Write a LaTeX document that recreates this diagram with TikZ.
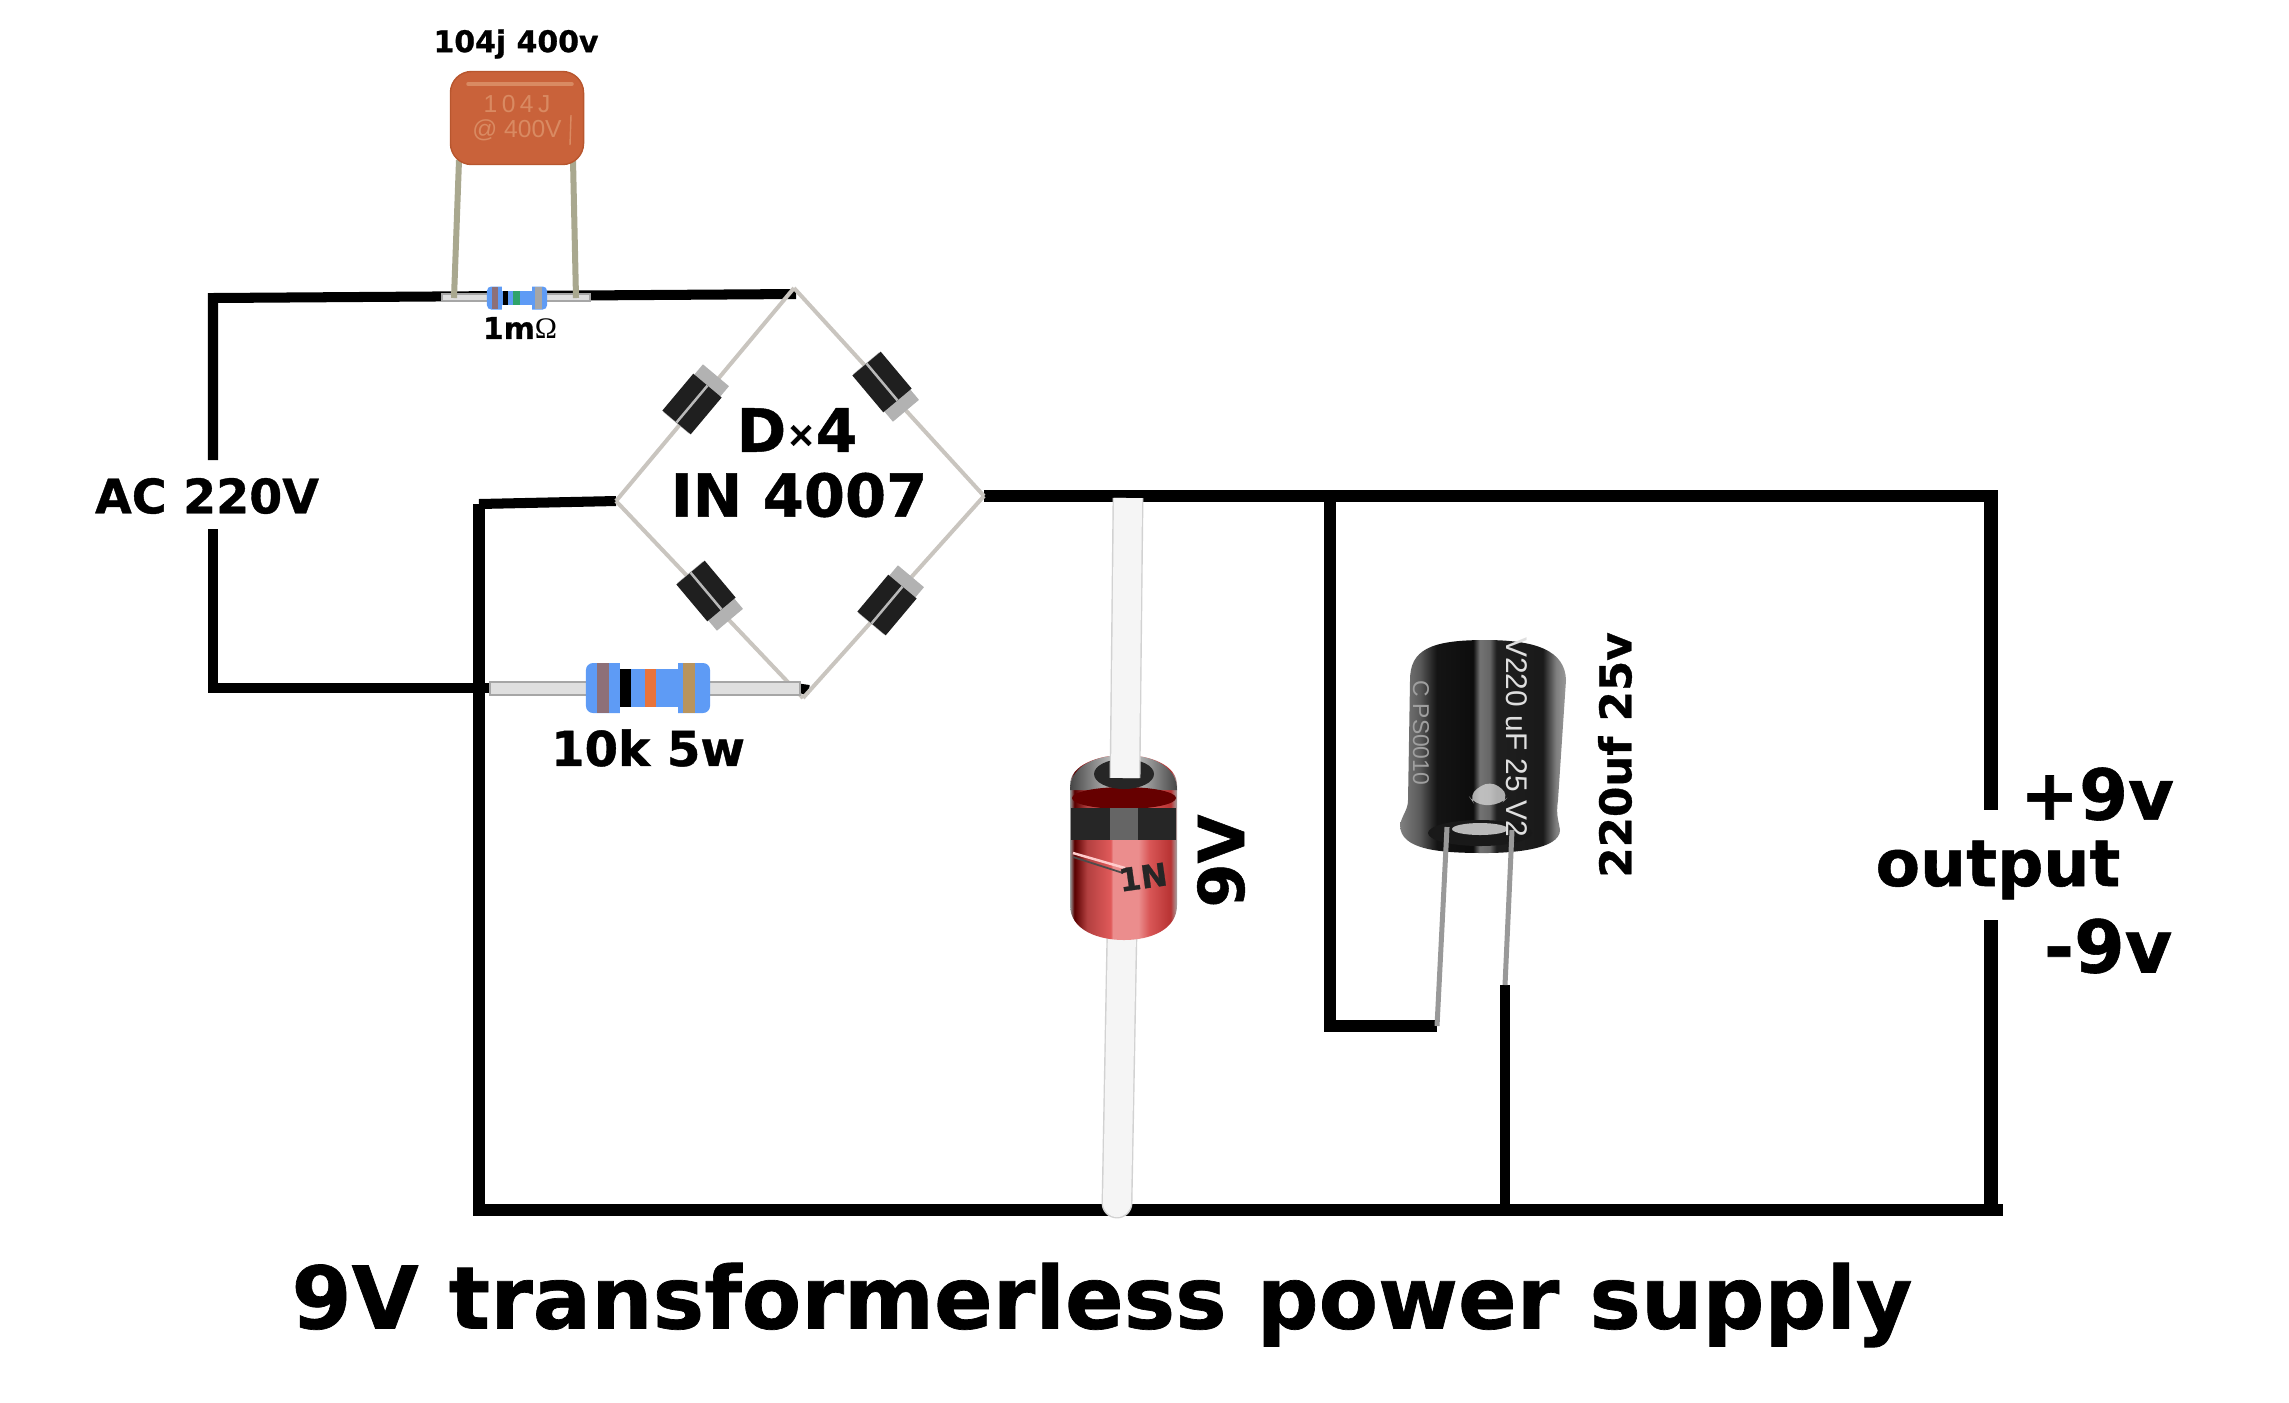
\documentclass[tikz,border=0pt]{standalone}
\usepackage{fontspec}
\setmainfont{DejaVu Sans}[BoldFeatures={FakeBold=0.8}]
\newfontfamily\omegafont{Liberation Serif}
\newfontfamily\printfont{Liberation Sans}
\definecolor{filmorange}{HTML}{C9623A}
\definecolor{filmedge}{HTML}{B8562E}
\definecolor{filmprint}{HTML}{D98A62}
\definecolor{leadolive}{HTML}{A9A88F}
\definecolor{leadgray}{HTML}{C9C5BF}
\definecolor{resblue}{HTML}{5E9BF5}
\definecolor{resbrown}{HTML}{8E7078}
\definecolor{restan}{HTML}{B8945E}
\definecolor{resorange}{HTML}{E8733A}
\definecolor{resgreen}{HTML}{2FA36B}
\pgfdeclarehorizontalshading{capbody}{100bp}{color(0bp)=(black!50); color(25bp)=(black!50); color(31bp)=(black!65); color(36bp)=(black!92); color(47bp)=(black!95); color(49bp)=(black!55); color(52bp)=(black!60); color(54bp)=(black!88); color(68bp)=(black!90); color(72bp)=(black!50); color(75bp)=(black!40); color(100bp)=(black!40)}
\pgfdeclarehorizontalshading{zenerbody}{100bp}{color(0bp)=(black!40); color(25bp)=(black!40); color(27bp)=(red!35!black); color(33bp)=(red!60!black!75!white); color(44bp)=(red!60!white!88!black); color(45bp)=(red!40!white!92!black); color(57bp)=(red!40!white!92!black); color(62bp)=(red!60!white!85!black); color(72bp)=(red!65!black!80!white); color(75bp)=(black!35); color(100bp)=(black!35)}
\begin{document}
\begin{tikzpicture}[x=0.01cm,y=-0.01cm]
	\useasboundingbox (0,0) rectangle (2289,1402);
	\def \railrow{496}
	\def \acrow{688}
	\def \gndrow{1210}

	\tikzstyle{wire}=[draw=black,line width=10pt*0.285,line join=miter]
	\tikzstyle{rail}=[draw=black,line width=12pt*0.285,line join=miter]
	\tikzstyle{outrail}=[draw=black,line width=14pt*0.285]
	\tikzstyle{lead}=[draw=leadgray,line width=4pt*0.285]
	\tikzstyle{capleg}=[draw=leadolive,line width=6pt*0.285]
	\tikzstyle{thinleg}=[draw=gray!80,line width=5pt*0.285]
	\tikzstyle{reslead}=[draw=gray!70,fill=gray!25,line width=0.5pt]
	\tikzstyle{zenerlead}=[draw=gray!35,double=gray!8,double distance=28pt*0.285,line width=0.4pt]
	\tikzstyle{dbody}=[rectangle,fill=gray!60,minimum width=0.62cm,minimum height=0.34cm,inner sep=0pt]
	\tikzstyle{dcore}=[rectangle,fill=black!88,minimum width=0.48cm,minimum height=0.37cm,inner sep=0pt]
	\tikzstyle{dline}=[rectangle,fill=gray!55,minimum width=0.48cm,minimum height=0.025cm,inner sep=0pt]
	\tikzstyle{lab}=[inner sep=0pt,font=\bfseries]

	% bridge corners and wire ends
	\coordinate (btop)	at (794,288);
	\coordinate (topend)	at (796,294);
	\coordinate (bleft)	at (616,501);
	\coordinate (bright)	at (984,496);
	\coordinate (bbot)	at (803,698);
	\coordinate (r2end)	at (809,690);
	\coordinate (actop)	at (213,298);
	\coordinate (acgap1)	at (213,460);
	\coordinate (acgap2)	at (213,529);
	\coordinate (acbot)	at (213,\acrow);
	\coordinate (r2in)	at (490,\acrow);
	\coordinate (r2out)	at (795,\acrow);
	\coordinate (gndl)	at (479,\gndrow);
	\coordinate (gndr)	at (2003,\gndrow);
	\coordinate (bl)	at (479,504);
	\coordinate (outtr)	at (1991,\railrow);
	\coordinate (outgap1)	at (1991,810);
	\coordinate (outgap2)	at (1991,920);
	\coordinate (outbr)	at (1991,\gndrow);
	\coordinate (capjoin)	at (1330,\railrow);
	\coordinate (capcorner)	at (1330,1026);
	\coordinate (capminus)	at (1437,1026);
	\coordinate (capplus)	at (1505,985);
	\coordinate (capgnd)	at (1505,\gndrow);

	% wires
	\draw[wire] (acgap1) -- (actop) -- (topend);
	\draw[wire] (acgap2) -- (acbot) -- (r2in);
	\draw[wire] (r2out) -- (r2end);
	\draw[wire] (bleft) -- (bl);
	\draw[rail] (bl) -- (gndl) -- (gndr);
	\draw[rail] (bright) -- (outtr);
	\draw[outrail] (outtr) ++(0,-6) -- (outgap1);
	\draw[outrail] (outgap2) -- (outbr);
	\draw[rail] (capjoin) -- (capcorner) -- (capminus);
	\draw[wire] (capplus) -- (capgnd);

	% bridge
	\path[lead]
		(bleft)	edge	(btop)
		(btop)	edge	(bright)
		(bleft)	edge	(bbot)
		(bbot)	edge	(bright);
	\node[dbody,rotate=50]	(d1)	at (696,399)	{};
	\node[dcore,rotate=50]	(d1c)	at (692,404)	{};
	\node[dline,rotate=50]	at (692,404)	{};
	\node[dbody,rotate=-50]	(d2)	at (886,387)	{};
	\node[dcore,rotate=-50]	(d2c)	at (882,382)	{};
	\node[dline,rotate=-50]	at (882,382)	{};
	\node[dbody,rotate=-50]	(d3)	at (710,596)	{};
	\node[dcore,rotate=-50]	(d3c)	at (706,591)	{};
	\node[dline,rotate=-50]	at (706,591)	{};
	\node[dbody,rotate=50]	(d4)	at (891,600)	{};
	\node[dcore,rotate=50]	(d4c)	at (887,605)	{};
	\node[dline,rotate=50]	at (887,605)	{};

	% 1m resistor and film cap
	\draw[reslead] (442,294) rectangle (590,301);
	\draw[capleg] (459,160) -- (454,298);
	\draw[capleg] (573,160) -- (576,298);
	\node[fill=resblue,rounded corners=1.2pt,minimum width=0.60cm,minimum height=0.23cm,inner sep=0pt] (r1) at (517,298) {};
	\fill[white] (502,286) rectangle (532,291);
	\fill[white] (502,305) rectangle (532,310);
	\fill[resbrown] (492,287) rectangle (498,309);
	\fill[black] (503,291) rectangle (508,305);
	\fill[resgreen] (513,291) rectangle (520,305);
	\fill[gray!70] (535,287) rectangle (542,309);
	\node[fill=filmorange,draw=filmedge,rounded corners=6pt,minimum width=1.33cm,minimum height=0.93cm,inner sep=0pt,align=center,text=filmprint,font=\printfont\fontsize{7}{7.3}\selectfont] (c1) at (517,118) {\addfontfeatures{LetterSpace=18}104J\\@ 400V};
	\draw[filmprint,line width=1pt,line cap=round] (468,84) -- (572,84);
	\draw[filmprint,line width=0.4pt] (571,115) -- (570,145);

	% 10k resistor
	\draw[reslead] (490,682) rectangle (800,695);
	\node[fill=resblue,rounded corners=2pt,minimum width=1.24cm,minimum height=0.50cm,inner sep=0pt] (r2) at (648,688) {};
	\fill[white] (620,662) rectangle (678,669);
	\fill[white] (620,707) rectangle (678,714);
	\fill[resbrown] (597,663) rectangle (609,713);
	\fill[black] (620,669) rectangle (631,707);
	\fill[resorange] (645,669) rectangle (656,707);
	\fill[restan] (683,663) rectangle (695,713);

	% zener
	\draw[zenerlead,line cap=round] (1122,930) -- (1117,1203);
	\shade[shading=zenerbody] (1070,785) .. controls (1070,765) and (1098,755) .. (1124,755) .. controls (1150,755) and (1177,765) .. (1177,785) -- (1177,905) .. controls (1177,930) and (1150,940) .. (1124,940) .. controls (1098,940) and (1070,930) .. (1070,905) -- cycle;
	\shade[left color=gray!55!black,right color=gray!55!black,middle color=gray!25] (1070,790) .. controls (1070,765) and (1098,755) .. (1124,755) .. controls (1150,755) and (1177,765) .. (1177,790) -- cycle;
	\fill[red!40!black] (1124,798) ellipse (52 and 11);
	\fill[black!85] (1071,808) rectangle (1176,840);
	\fill[gray!60,opacity=0.45] (1110,808) rectangle (1138,840);
	\fill[black!85] (1124,774) ellipse (30 and 15);
	\draw[zenerlead] (1128,498) -- (1125,778);
	\draw[black!70,line width=0.5pt] (1073,857) -- (1123,873);
	\draw[white!80!red,line width=0.7pt] (1073,853) -- (1125,868);
	\node[rotate=8,font=\bfseries\fontsize{9}{10}\selectfont,inner sep=0pt,text=black!85] (zmark) at (1143,877) {1N};

	% electrolytic
	\shade[shading=capbody] (1410,680) .. controls (1410,650) and (1430,640) .. (1485,640) .. controls (1535,640) and (1565,650) .. (1566,680) -- (1558,800) .. controls (1556,815) and (1558,818) .. (1560,830) .. controls (1560,850) and (1510,853) .. (1485,853) .. controls (1440,853) and (1400,850) .. (1400,825) .. controls (1402,815) and (1408,810) .. (1408,800) -- cycle;
	\fill[gray!35,opacity=0.8,rounded corners=3pt] (1468,795) -- (1490,780) -- (1510,795) -- (1500,805) -- (1475,805) -- cycle;
	\fill[black!90] (1480,833) ellipse (52 and 13);
	\fill[gray!55] (1480,829) ellipse (28 and 6);
	\draw[thinleg] (1447,827) -- (capminus);
	\draw[thinleg] (1512,830) -- (capplus);
	\node[rotate=-90,text=gray!25,font=\printfont\fontsize{8.5}{9}\selectfont,inner sep=0pt] (cmark) at (1517,737) {V220 uF 25 V2};
	\node[rotate=-90,text=gray!75,font=\printfont\fontsize{6.5}{8}\selectfont,inner sep=0pt] (cmark2) at (1421,733) {C PS0010};

	% labels
	\node[lab,font=\bfseries\fontsize{8.5}{10}\selectfont] (l104)	at (516,44)	{104j 400v};
	\node[lab,font=\bfseries\fontsize{8.5}{10}\selectfont] (l1m)	at (520,328)	{1m{\omegafont\mdseries Ω}};
	\node[lab,font=\bfseries\fontsize{13.5}{16}\selectfont] (lac)	at (207,496)	{AC 220V};
	\node[lab,font=\bfseries\fontsize{17}{20}\selectfont] (ldx)	at (797,430)	{D\raisebox{1.5pt}{\fontsize{10}{12}\selectfont ×}4};
	\node[lab,font=\bfseries\fontsize{16.8}{20}\selectfont] (lin)	at (799,495)	{IN 4007};
	\node[lab,font=\bfseries\fontsize{13.7}{16}\selectfont] (l10k)	at (648,748)	{10k 5w};
	\node[lab,rotate=90,font=\bfseries\fontsize{18}{20}\selectfont] (l9v)	at (1221,861)	{9V};
	\node[lab,rotate=90,font=\bfseries\fontsize{12.4}{14}\selectfont] (l220)	at (1615,755)	{220uf 25v};
	\node[lab,font=\bfseries\fontsize{20}{22}\selectfont] (lp9)	at (2097,794)	{+9v};
	\node[lab,font=\bfseries\fontsize{18.4}{21}\selectfont] (lout)	at (1998,870)	{output};
	\node[lab,font=\bfseries\fontsize{20.7}{23}\selectfont] (lm9)	at (2108,946)	{-9v};
	\node[lab,font=\bfseries\fontsize{24.6}{28}\selectfont] (ltitle)	at (1102,1305)	{9V transformerless power supply};
\end{tikzpicture}
\end{document}
